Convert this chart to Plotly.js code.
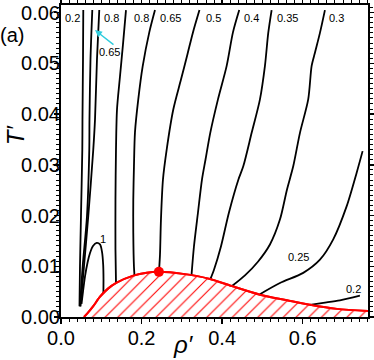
<!DOCTYPE html>
<html>
<head>
<meta charset="utf-8">
<script src="https://cdn.plot.ly/plotly-3.0.1.min.js"></script>
<style>
    html, body { margin:0; padding:0; background:#ffffff; }
    #chart { width:374px; height:360px; }
</style>
</head>
<body>
<div id="chart"></div>
<script>

/* ==========================================
   DATA  (rho', T')
========================================== */

const lineA_rho = [0.0553, 0.0546, 0.0533, 0.0529, 0.0496, 0.0471, 0.0459];
const lineA_T   = [0.0605, 0.0508, 0.0389, 0.0330, 0.0199, 0.0100, 0.0021];

const lineB_rho = [0.0777, 0.0732, 0.0707, 0.0702, 0.0645, 0.0538, 0.0471];
const lineB_T   = [0.0605, 0.0508, 0.0389, 0.0330, 0.0199, 0.0100, 0.0021];

const lineC_rho = [0.0950, 0.0893, 0.0844, 0.0801, 0.0677, 0.0571, 0.0484];
const lineC_T   = [0.0605, 0.0508, 0.0389, 0.0330, 0.0199, 0.0100, 0.0021];

const loop1_rho = [0.0509, 0.0546, 0.0596, 0.0658, 0.0720, 0.0794, 0.0886, 0.0968, 0.1017, 0.1047, 0.1055, 0.1052];
const loop1_T   = [0.0026, 0.0050, 0.0080, 0.0107, 0.0126, 0.0140, 0.0146, 0.0143, 0.0129, 0.0103, 0.0074, 0.0047];

const lineD_rho = [0.1613, 0.1538, 0.1464, 0.1390, 0.1365, 0.1352, 0.1352, 0.1365];
const lineD_T   = [0.0605, 0.0537, 0.0474, 0.0409, 0.0330, 0.0231, 0.0133, 0.0068];

const lineE_rho = [0.2333, 0.2191, 0.2027, 0.1918, 0.1836, 0.1811, 0.1794, 0.1794, 0.1811, 0.1824];
const lineE_T   = [0.0605, 0.0561, 0.0494, 0.0429, 0.0364, 0.0297, 0.0231, 0.0166, 0.0099, 0.0082];

const lineF_rho = [0.3437, 0.3275, 0.3139, 0.2978, 0.2787, 0.2623, 0.2531, 0.2481, 0.2457, 0.2432];
const lineF_T   = [0.0605, 0.0561, 0.0518, 0.0468, 0.0409, 0.0330, 0.0271, 0.0192, 0.0123, 0.0089];

const lineG_rho = [0.4424, 0.4268, 0.4112, 0.3896, 0.3705, 0.3586, 0.3499, 0.3400, 0.3300, 0.3238];
const lineG_T   = [0.0605, 0.0561, 0.0495, 0.0429, 0.0363, 0.0310, 0.0271, 0.0206, 0.0139, 0.0081];

const lineH_rho = [0.5228, 0.5144, 0.5062, 0.4938, 0.4732, 0.4524, 0.4404, 0.4169, 0.3970, 0.3797, 0.3710];
const lineH_T   = [0.0605, 0.0560, 0.0495, 0.0429, 0.0363, 0.0297, 0.0271, 0.0206, 0.0139, 0.0093, 0.0075];

const lineI_rho = [0.6551, 0.6427, 0.6303, 0.6221, 0.6136, 0.5931, 0.5764, 0.5608, 0.5434, 0.5186, 0.4888, 0.4566, 0.4243];
const lineI_T   = [0.0605, 0.0560, 0.0521, 0.0495, 0.0429, 0.0363, 0.0297, 0.0251, 0.0192, 0.0143, 0.0109, 0.0082, 0.0061];

const lineJ_rho = [0.7486, 0.7337, 0.7089, 0.6757, 0.6427, 0.6012, 0.5434, 0.4938];
const lineJ_T   = [0.0327, 0.0284, 0.0218, 0.0153, 0.0113, 0.0087, 0.0067, 0.0045];

const lineK_rho = [0.6179, 0.6509, 0.6923, 0.7419];
const lineK_T   = [0.0024, 0.0028, 0.0033, 0.0042];

const coexRho = [0.0571, 0.0670, 0.0801, 0.0968, 0.1166, 0.1382, 0.1794, 0.2127, 0.2430, 0.3030, 0.3700, 0.4240, 0.4940, 0.5610, 0.6180, 0.6850, 0.7620];
const coexT   = [0.0, 0.00085, 0.00213, 0.0040, 0.00559, 0.00677, 0.00815, 0.00874, 0.0089, 0.0085, 0.0075, 0.0061, 0.0044, 0.0033, 0.0024, 0.0016, 0.0012];

const criticalRho = [0.243];
const criticalT   = [0.0089];

const labelText = ["0.2", "0.8", "0.8", "0.65", "0.5", "0.4", "0.35", "0.3", "1", "0.25", "0.2"];
const labelRho  = [0.0290, 0.1258, 0.2002, 0.2722, 0.3789, 0.4739, 0.5633, 0.6849, 0.1035, 0.5891, 0.7254];
const labelT    = [0.0590, 0.0590, 0.0590, 0.0590, 0.0590, 0.0590, 0.0590, 0.0590, 0.0154, 0.0118, 0.0056];

const arrowText = "0.65";
const arrowHead = [0.0844, 0.05656];
const arrowTextPos = [0.1216, 0.0523];


/* ==========================================
   TRACES
========================================== */

const FONT = "Arial, 'Liberation Sans', sans-serif";

function contourTrace(x, y){

    return {
        x:x,
        y:y,
        mode:"lines",
        type:"scatter",
        line:{ color:"#000000", width:1.8, shape:"spline", smoothing:0.8 },
        hoverinfo:"skip",
        showlegend:false
    };

}

const traces = [

    {
        x:coexRho,
        y:coexT,
        mode:"lines",
        type:"scatter",
        fill:"tozeroy",
        fillcolor:"#ffffff",
        fillpattern:{ shape:"/", fgcolor:"#ff0000", fgopacity:1, bgcolor:"#ffffff", size:9, solidity:0.12 },
        line:{ color:"#ff0000", width:2, shape:"spline", smoothing:0.8 },
        hoverinfo:"skip",
        showlegend:false
    },

    contourTrace(lineA_rho, lineA_T),
    contourTrace(lineB_rho, lineB_T),
    contourTrace(lineC_rho, lineC_T),
    contourTrace(loop1_rho, loop1_T),
    contourTrace(lineD_rho, lineD_T),
    contourTrace(lineE_rho, lineE_T),
    contourTrace(lineF_rho, lineF_T),
    contourTrace(lineG_rho, lineG_T),
    contourTrace(lineH_rho, lineH_T),
    contourTrace(lineI_rho, lineI_T),
    contourTrace(lineJ_rho, lineJ_T),
    contourTrace(lineK_rho, lineK_T),

    {
        x:coexRho,
        y:coexT,
        mode:"lines",
        type:"scatter",
        line:{ color:"#ff0000", width:2, shape:"spline", smoothing:0.8 },
        hoverinfo:"skip",
        showlegend:false
    },

    {
        x:criticalRho,
        y:criticalT,
        mode:"markers",
        type:"scatter",
        marker:{ color:"#ff0000", size:10 },
        hoverinfo:"skip",
        showlegend:false
    }

];


/* ==========================================
   ANNOTATIONS
========================================== */

let annotations = labelText.map((t, i)=>{

    return {
        x:labelRho[i],
        y:labelT[i],
        xref:"x",
        yref:"y",
        xanchor:"center",
        yanchor:"middle",
        text:t,
        showarrow:false,
        font:{ family:FONT, size:11, color:"#000000" }
    };

});

annotations.push({
    x:arrowTextPos[0],
    y:arrowTextPos[1],
    xref:"x",
    yref:"y",
    xanchor:"center",
    yanchor:"middle",
    text:arrowText,
    showarrow:false,
    font:{ family:FONT, size:11, color:"#000000" }
});

annotations.push({
    x:arrowHead[0],
    y:arrowHead[1],
    xref:"x",
    yref:"y",
    text:" ",
    showarrow:true,
    arrowhead:2,
    arrowsize:1,
    arrowwidth:1.4,
    arrowcolor:"#30ccdd",
    borderpad:0,
    ax:19,
    ay:15,
    font:{ size:1 }
});

annotations.push({
    x:-0.158, y:0.905, xref:"paper", yref:"paper",
    xanchor:"center", yanchor:"middle",
    text:"(a)", showarrow:false,
    font:{ family:FONT, size:20, color:"#000000" }
});

annotations.push({
    x:-0.147, y:0.585, xref:"paper", yref:"paper",
    xanchor:"center", yanchor:"middle",
    text:"<i>T′</i>", showarrow:false, textangle:-90,
    font:{ family:FONT, size:24, color:"#000000" }
});

annotations.push({
    x:0.40, y:-0.088, xref:"paper", yref:"paper",
    xanchor:"center", yanchor:"middle",
    text:"<i>ρ′</i>", showarrow:false,
    font:{ family:FONT, size:24, color:"#000000" }
});


/* ==========================================
   LAYOUT
========================================== */

const axisStyle = {
    showline:true,
    linecolor:"#000000",
    linewidth:2,
    mirror:"allticks",
    ticks:"outside",
    ticklen:5,
    tickwidth:1.5,
    tickcolor:"#000000",
    showgrid:false,
    zeroline:false,
    tickfont:{ family:FONT, size:20, color:"#000000" }
};

const layout = {
    width:374,
    height:360,
    margin:{ l:61, r:6, t:5, b:43 },
    paper_bgcolor:"#ffffff",
    plot_bgcolor:"#ffffff",
    hovermode:false,
    xaxis:Object.assign({}, axisStyle, {
        range:[0, 0.762],
        tick0:0,
        dtick:0.2,
        tickformat:".1f",
        ticklabelstandoff:-3,
        minor:{ dtick:0.02, ticks:"outside", ticklen:3, tickwidth:1, tickcolor:"#000000" }
    }),
    yaxis:Object.assign({}, axisStyle, {
        range:[0, 0.0615],
        tick0:0,
        dtick:0.01,
        tickformat:".2f",
        ticklabelstandoff:-10,
        minor:{ dtick:0.001, ticks:"outside", ticklen:3, tickwidth:1, tickcolor:"#000000" }
    }),
    annotations:annotations
};

Plotly.newPlot("chart", traces, layout, { displayModeBar:false, staticPlot:true });

</script>
</body>
</html>
